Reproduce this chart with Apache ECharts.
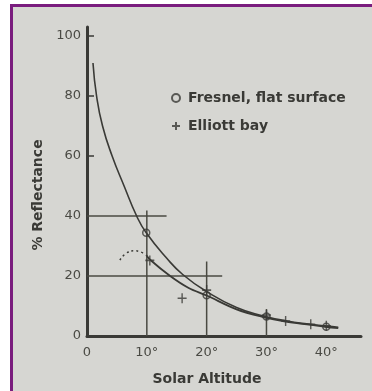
<!DOCTYPE html>
<html>
<head>
<meta charset="utf-8">
<script src="https://cdn.jsdelivr.net/npm/echarts@6/dist/echarts.min.js"></script>
<style>
  html, body { margin: 0; padding: 0; background: #fff; }
  #chart { width: 372px; height: 391px; }
</style>
</head>
<body>
<div id="chart"></div>
<script>
// values
var xTicks = [0, 10, 20, 30, 40];
var yTicks = [0, 20, 40, 60, 80, 100];

// Fresnel curve
var fresX = [1, 1.6, 2.6, 4.2, 6.2, 8.3, 9.9, 13.3, 16, 20, 25, 29.5, 33.2, 37.4, 40, 42];
var fresY = [91, 80, 70, 60, 50, 40, 34.4, 26, 20.5, 14.8, 9.5, 6.7, 5.1, 3.9, 3.3, 2.9];
// fitted curve through Elliott bay points
var bayX = [9.9, 10.5, 13.9, 17, 20, 25, 29.5, 33.2, 37.4, 40, 42];
var bayY = [27, 25.5, 20, 16, 13.5, 8.9, 6.3, 4.8, 3.7, 3.0, 2.6];
// dotted arc left of 10 deg
var arcX = [5.5, 6.5, 7.8, 9.0, 9.7];
var arcY = [25.3, 27.5, 28.4, 28, 27.2];

// markers
var fresPtX = [9.9, 20, 30, 40];
var fresPtY = [34.4, 13.6, 6.5, 3.1];
var bayPtX = [10.5, 15.9, 20, 30, 33.2, 37.4, 40];
var bayPtY = [25.2, 12.6, 15.3, 7, 5.0, 3.9, 3.4];

// reference lines [x1, y1, x2, y2]
var refLines = [
    [0, 40, 13.3, 40],
    [10, 0, 10, 41.8],
    [0, 20, 22.6, 20],
    [20, 0, 20, 24.8],
    [30, 0, 30, 9]
];

function zip(xs, ys) {
    var out = [];
    for (var i = 0; i < xs.length; i++) out.push([xs[i], ys[i]]);
    return out;
}

var ink = '#3a3a36';
var font = 'DejaVu Sans';
var plusPath = 'path://M5,0 L5,10 M0,5 L10,5';

var myChart = echarts.init(document.getElementById('chart'));

var series = [];
refLines.forEach(function (l) {
    series.push({
        type: 'line',
        data: [[l[0], l[1]], [l[2], l[3]]],
        symbol: 'none',
        silent: true,
        lineStyle: { color: '#4a4a42', width: 1.5 },
        z: 1
    });
});
series.push({
    type: 'line', data: zip(fresX, fresY), smooth: 0.5, symbol: 'none',
    lineStyle: { color: ink, width: 1.6 }
});
series.push({
    type: 'line', data: zip(bayX, bayY), smooth: 0.35, symbol: 'none',
    lineStyle: { color: ink, width: 1.8 }
});
series.push({
    type: 'line', data: zip(arcX, arcY), smooth: 0.5, symbol: 'none',
    lineStyle: { color: ink, width: 1.5, type: [2, 3] }
});
series.push({
    name: 'Fresnel, flat surface',
    type: 'scatter', data: zip(fresPtX, fresPtY),
    symbol: 'circle', symbolSize: 7,
    itemStyle: { color: 'rgba(0,0,0,0)', borderColor: ink, borderWidth: 1.5 },
    z: 4
});
series.push({
    name: 'Elliott bay',
    type: 'scatter', data: zip(bayPtX, bayPtY),
    symbol: plusPath, symbolSize: [9, 10],
    itemStyle: { color: 'rgba(0,0,0,0)', borderColor: ink, borderWidth: 1.5 },
    z: 4
});

var option = {
    backgroundColor: '#ffffff',
    animation: false,
    graphic: [{
        type: 'rect',
        z: -10,
        silent: true,
        shape: { x: 11.5, y: 5.5, width: 420, height: 420 },
        style: { fill: '#d6d6d2', stroke: '#7a1d7e', lineWidth: 3 }
    }],
    legend: {
        orient: 'vertical',
        left: 166,
        top: 86,
        itemGap: 14,
        itemWidth: 14,
        itemHeight: 8,
        textStyle: { fontFamily: font, fontWeight: 'bold', fontSize: 14, color: '#3a3a36' },
        data: ['Fresnel, flat surface', 'Elliott bay']
    },
    grid: { left: 87, right: 11, top: 27, bottom: 55 },
    xAxis: {
        type: 'value',
        min: 0,
        max: 45.8,
        name: 'Solar Altitude',
        nameLocation: 'middle',
        nameGap: 36,
        nameTextStyle: {
            fontFamily: font, fontWeight: 'bold', fontSize: 14, color: '#3a3a36',
            padding: [0, 34, 0, 0]
        },
        splitLine: { show: false },
        axisLine: { lineStyle: { color: ink, width: 3 } },
        axisTick: { show: false },
        axisLabel: {
            customValues: xTicks,
            margin: 10,
            fontFamily: font, fontSize: 13, color: '#4a4a44',
            formatter: function (v) { return v === 0 ? '0' : v + '°'; }
        }
    },
    yAxis: {
        type: 'value',
        min: 0,
        max: 103,
        name: '% Reflectance',
        nameLocation: 'middle',
        nameGap: 40,
        nameTextStyle: {
            fontFamily: font, fontWeight: 'bold', fontSize: 14, color: '#3a3a36',
            padding: [0, 27, 0, 0]
        },
        splitLine: { show: false },
        axisLine: { lineStyle: { color: ink, width: 3 } },
        axisTick: {
            customValues: [60, 80, 100],
            inside: true,
            length: 7,
            lineStyle: { color: ink, width: 1.5 }
        },
        axisLabel: {
            customValues: yTicks,
            margin: 6,
            fontFamily: font, fontSize: 13, color: '#4a4a44'
        }
    },
    series: series
};
myChart.setOption(option);
</script>
</body>
</html>
